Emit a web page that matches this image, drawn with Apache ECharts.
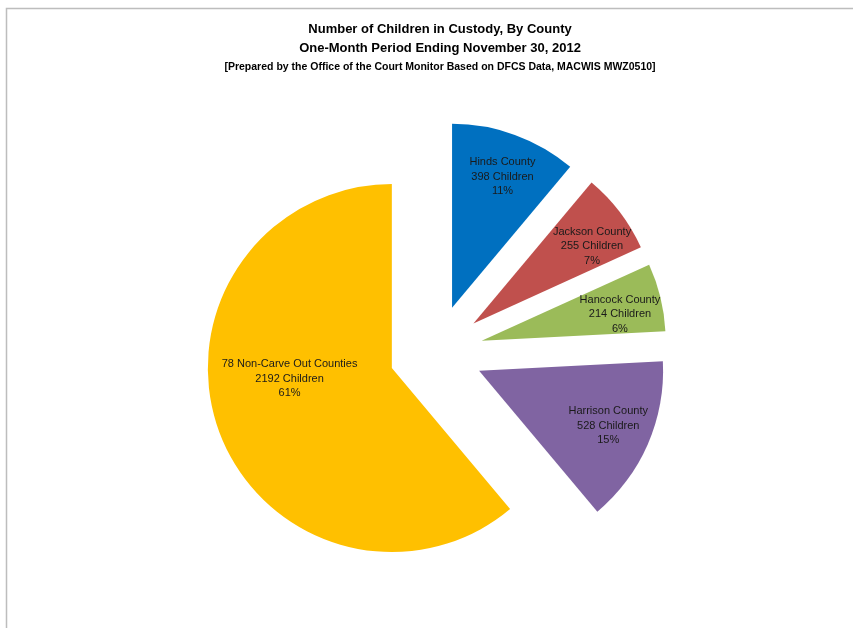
<!DOCTYPE html>
<html>
<head>
<meta charset="utf-8">
<script src="https://cdn.jsdelivr.net/npm/echarts@6/dist/echarts.min.js"></script>
<style>
html,body{margin:0;padding:0;background:#fff;}
#chart{width:853px;height:628px;}
</style>
</head>
<body>
<div id="chart"></div>
<script>
const categories = ['Hinds County', 'Jackson County', 'Hancock County', 'Harrison County', '78 Non-Carve Out Counties'];
const children = [398, 255, 214, 528, 2192];
const colors = ['#0070C0', '#C0504D', '#9BBB59', '#8064A2', '#FFC000'];
const labelShift = [[18, -42], [43, -20], [46, -4], [42, 17], [-13, -22]];

const titleLines = ['Number of Children in Custody, By County', 'One-Month Period Ending November 30, 2012'];
const subtitle = '[Prepared by the Office of the Court Monitor Based on DFCS Data, MACWIS MWZ0510]';

const chart = echarts.init(document.getElementById('chart'), null, {renderer: 'canvas'});
const FONT = 'Liberation Sans';

chart.setOption({
  backgroundColor: '#ffffff',
  animation: false,
  title: {
    text: titleLines.join('\n'),
    subtext: subtitle,
    left: 435,
    top: 15,
    textAlign: 'center',
    itemGap: 3,
    textStyle: {fontFamily: FONT, fontSize: 13, fontWeight: 'bold', color: '#000', lineHeight: 19},
    subtextStyle: {fontFamily: FONT, fontSize: 10.5, fontWeight: 'bold', color: '#000', lineHeight: 13}
  },
  graphic: [{
    type: 'rect',
    shape: {x: 6.5, y: 8.5, width: 1000, height: 1000},
    style: {fill: 'none', stroke: '#bdbdbd', lineWidth: 1.5},
    silent: true
  }],
  series: [{
    type: 'pie',
    center: [436, 352],
    radius: [0, 184],
    startAngle: 90,
    clockwise: true,
    selectedMode: 'multiple',
    selectedOffset: 47,
    avoidLabelOverlap: false,
    percentPrecision: 0,
    emphasis: {disabled: true, scale: false},
    select: {itemStyle: {borderWidth: 0}, label: {show: true}},
    itemStyle: {borderWidth: 0},
    label: {
      show: true,
      position: 'inside',
      formatter: '{b}\n{c} Children\n{d}%',
      fontFamily: FONT,
      fontSize: 11,
      lineHeight: 14.5,
      color: '#1a1a1a',
      align: 'center'
    },
    labelLine: {show: false},
    labelLayout: function (p) {
      const s = labelShift[p.dataIndex];
      return {dx: s[0], dy: s[1]};
    },
    data: categories.map((c, i) => ({
      name: c,
      value: children[i],
      selected: true,
      itemStyle: {color: colors[i]}
    }))
  }]
});
</script>
</body>
</html>
